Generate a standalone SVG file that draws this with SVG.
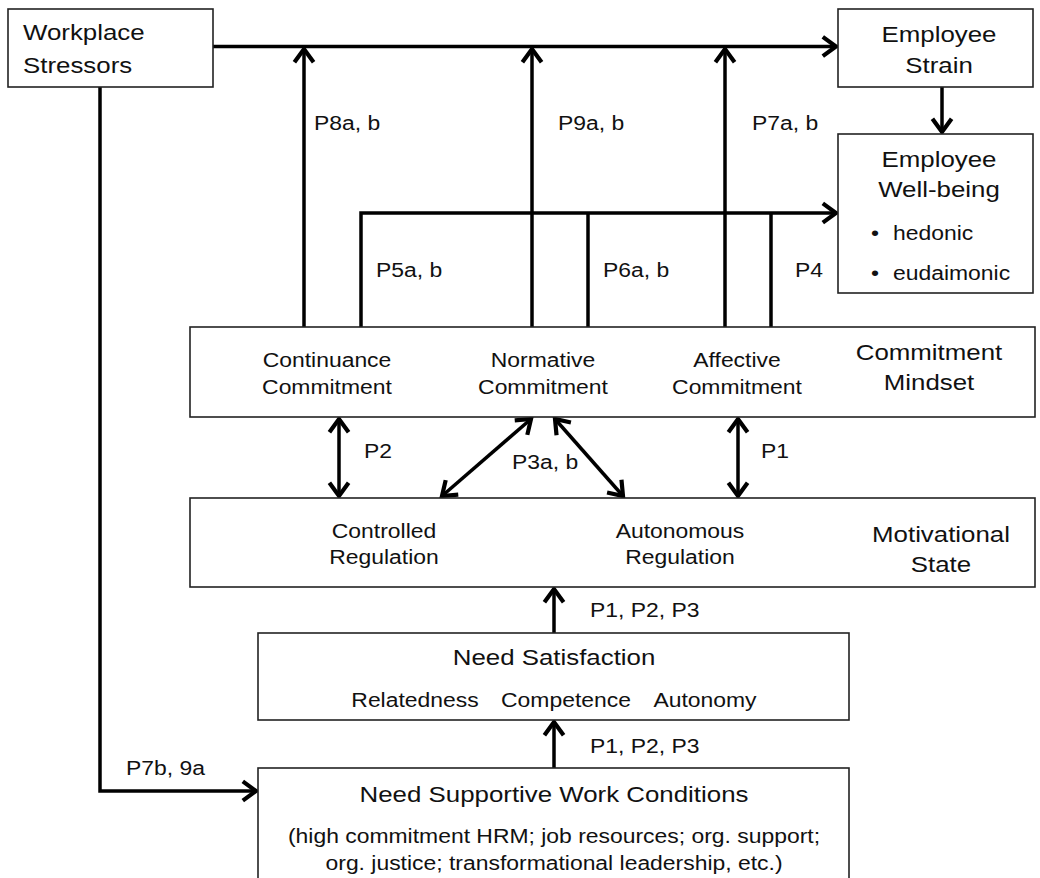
<svg xmlns="http://www.w3.org/2000/svg" width="1040" height="878" viewBox="0 0 1040 878">
<defs>
<style>
.box{fill:#fff;stroke:#222;stroke-width:1.6}
.c{fill:none;stroke:#000;stroke-width:3.5}
text{font-family:"Liberation Sans",Arial,sans-serif;fill:#111}
.b{font-size:22px}
.s{font-size:19.5px}
.m{text-anchor:middle}
</style>
<marker id="ah" markerUnits="userSpaceOnUse" markerWidth="24" markerHeight="24" viewBox="-14 -10 16 20" refX="0" refY="0" orient="auto-start-reverse">
<path d="M-11,-8 L0,0 L-11,8" fill="none" stroke="#000" stroke-width="3.5"/>
</marker>
</defs>
<rect width="1040" height="878" fill="#fff"/>

<g id="connectors">
<path class="c" d="M213,46.5 H836" marker-end="url(#ah)"/>
<path class="c" d="M100,87 V791 H256" marker-end="url(#ah)"/>
<path class="c" d="M304,327 V49" marker-end="url(#ah)"/>
<path class="c" d="M532,327 V49" marker-end="url(#ah)"/>
<path class="c" d="M725,327 V49" marker-end="url(#ah)"/>
<path class="c" d="M942,87 V132" marker-end="url(#ah)"/>
<path class="c" d="M361,327 V213 H836" marker-end="url(#ah)"/>
<path class="c" d="M588,327 V213"/>
<path class="c" d="M771,327 V213"/>
<path class="c" d="M339,419 V496" marker-start="url(#ah)" marker-end="url(#ah)"/>
<path class="c" d="M531,419 L442,496" marker-start="url(#ah)" marker-end="url(#ah)"/>
<path class="c" d="M555,419 L623,496" marker-start="url(#ah)" marker-end="url(#ah)"/>
<path class="c" d="M738,419 V496" marker-start="url(#ah)" marker-end="url(#ah)"/>
<path class="c" d="M554,633 V589" marker-end="url(#ah)"/>
<path class="c" d="M554,768 V722" marker-end="url(#ah)"/>
</g>

<g id="labels">
<text class="s" transform="translate(314,130) scale(1.175,1)">P8a, b</text>
<text class="s" transform="translate(558,130) scale(1.175,1)">P9a, b</text>
<text class="s" transform="translate(752,130) scale(1.175,1)">P7a, b</text>
<text class="s" transform="translate(376,277) scale(1.175,1)">P5a, b</text>
<text class="s" transform="translate(603,277) scale(1.175,1)">P6a, b</text>
<text class="s" transform="translate(795,277) scale(1.175,1)">P4</text>
<text class="s" transform="translate(364,458) scale(1.175,1)">P2</text>
<text class="s" transform="translate(512,469) scale(1.175,1)">P3a, b</text>
<text class="s" transform="translate(761,458) scale(1.175,1)">P1</text>
<text class="s" transform="translate(590,617) scale(1.175,1)">P1, P2, P3</text>
<text class="s" transform="translate(590,753) scale(1.175,1)">P1, P2, P3</text>
<text class="s" transform="translate(126,775) scale(1.175,1)">P7b, 9a</text>
</g>

<g id="workplace-stressors">
<rect class="box" x="8" y="9" width="205" height="78"/>
<text class="b" transform="translate(23,40) scale(1.175,1)">Workplace</text>
<text class="b" transform="translate(23,73) scale(1.175,1)">Stressors</text>
</g>

<g id="employee-strain">
<rect class="box" x="838" y="9" width="195" height="78"/>
<text class="b m" transform="translate(939,42) scale(1.175,1)">Employee</text>
<text class="b m" transform="translate(939,73) scale(1.175,1)">Strain</text>
</g>

<g id="employee-well-being">
<rect class="box" x="838" y="134" width="195" height="159"/>
<text class="b m" transform="translate(939,167) scale(1.175,1)">Employee</text>
<text class="b m" transform="translate(939,197) scale(1.175,1)">Well-being</text>
<text class="s" transform="translate(871,240) scale(1.175,1)">•</text>
<text class="s" transform="translate(893,240) scale(1.175,1)">hedonic</text>
<text class="s" transform="translate(871,280) scale(1.175,1)">•</text>
<text class="s" transform="translate(893,280) scale(1.175,1)">eudaimonic</text>
</g>

<g id="commitment-mindset">
<rect class="box" x="190" y="327" width="845" height="90"/>
<text class="s m" transform="translate(327,367) scale(1.175,1)">Continuance</text>
<text class="s m" transform="translate(327,394) scale(1.175,1)">Commitment</text>
<text class="s m" transform="translate(543,367) scale(1.175,1)">Normative</text>
<text class="s m" transform="translate(543,394) scale(1.175,1)">Commitment</text>
<text class="s m" transform="translate(737,367) scale(1.175,1)">Affective</text>
<text class="s m" transform="translate(737,394) scale(1.175,1)">Commitment</text>
<text class="b m" transform="translate(929,360) scale(1.175,1)">Commitment</text>
<text class="b m" transform="translate(929,390) scale(1.175,1)">Mindset</text>
</g>

<g id="motivational-state">
<rect class="box" x="190" y="498" width="845" height="89"/>
<text class="s m" transform="translate(384,538) scale(1.175,1)">Controlled</text>
<text class="s m" transform="translate(384,564) scale(1.175,1)">Regulation</text>
<text class="s m" transform="translate(680,538) scale(1.175,1)">Autonomous</text>
<text class="s m" transform="translate(680,564) scale(1.175,1)">Regulation</text>
<text class="b m" transform="translate(941,542) scale(1.175,1)">Motivational</text>
<text class="b m" transform="translate(941,572) scale(1.175,1)">State</text>
</g>

<g id="need-satisfaction">
<rect class="box" x="258" y="633" width="591" height="87"/>
<text class="b m" transform="translate(554,665) scale(1.175,1)">Need Satisfaction</text>
<text class="s m" transform="translate(415,707) scale(1.175,1)">Relatedness</text>
<text class="s m" transform="translate(566,707) scale(1.175,1)">Competence</text>
<text class="s m" transform="translate(705,707) scale(1.175,1)">Autonomy</text>
</g>

<g id="need-supportive-work-conditions">
<rect class="box" x="258" y="768" width="591" height="130"/>
<text class="b m" transform="translate(554,802) scale(1.175,1)">Need Supportive Work Conditions</text>
<text class="s m" transform="translate(554,843) scale(1.175,1)">(high commitment HRM; job resources; org. support;</text>
<text class="s m" transform="translate(554,870) scale(1.175,1)">org. justice; transformational leadership, etc.)</text>
</g>
</svg>
